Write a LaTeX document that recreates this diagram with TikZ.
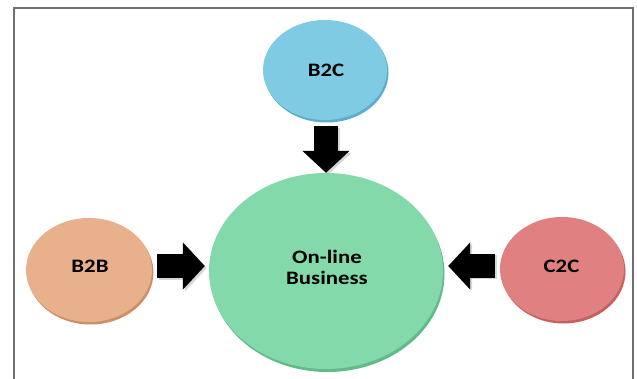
\documentclass[tikz,border=0pt]{standalone}
\usepackage{fontspec}
\setmainfont{Carlito}
\usepackage{graphicx}
\usetikzlibrary{shapes.geometric,arrows.meta,calc}
\definecolor{bluefill}{RGB}{127,203,227}
\definecolor{bluerim}{RGB}{92,172,204}
\definecolor{greenfill}{RGB}{131,217,170}
\definecolor{greenrim}{RGB}{96,186,138}
\definecolor{orangefill}{RGB}{232,176,139}
\definecolor{orangerim}{RGB}{206,142,102}
\definecolor{redfill}{RGB}{224,128,128}
\definecolor{redrim}{RGB}{196,96,96}
\definecolor{framegray}{RGB}{112,112,112}
\begin{document}
\begin{tikzpicture}[x=1pt,y=-1pt,
  disc/.style={ellipse, inner sep=0pt, draw=none},
  txt/.style={inner sep=0pt, align=center, text=black,
    font=\fontsize{19}{21}\selectfont\bfseries},
  blockarrow/.style={line width=24pt, line cap=butt, draw=black,
    -{Triangle[length=22pt,width=46pt]}},
  arrowshadow/.style={line width=24pt, line cap=butt, draw=black!35, opacity=0.45,
    -{Triangle[length=22pt,width=46pt]}}
]
\useasboundingbox (0,0) rectangle (637,379);
\fill[white] (0,0) rectangle (637,379);
% frame
\draw[framegray, line width=1.3pt] (14,382) -- (14,8) -- (633,8) -- (633,382);

% centres
\coordinate (pb2c) at (325,70);
\coordinate (pmain) at (326,271);
\coordinate (pb2b) at (89,270);
\coordinate (pc2c) at (562,269);

% rims (3-D edge)
\fill[bluerim]   ($(pb2c)+(1.5,2.5)$)  ellipse [x radius=62, y radius=50];
\fill[greenrim]  ($(pmain)+(1.5,3)$)   ellipse [x radius=117, y radius=98];
\fill[orangerim] ($(pb2b)+(1.5,2.5)$)  ellipse [x radius=63, y radius=52];
\fill[redrim]    ($(pc2c)+(1.5,2.5)$)  ellipse [x radius=62, y radius=52];

% discs
\node[disc, fill=bluefill,   minimum width=124pt, minimum height=100pt] (b2c)  at (pb2c)  {};
\node[disc, fill=greenfill,  minimum width=234pt, minimum height=196pt] (main) at (pmain) {};
\node[disc, fill=orangefill, minimum width=126pt, minimum height=104pt] (b2b)  at (pb2b)  {};
\node[disc, fill=redfill,    minimum width=124pt, minimum height=104pt] (c2c)  at (pc2c)  {};

% labels
\node[txt] (tb2c)  at ($(b2c.center)+(1,0.5)$)  {\scalebox{1.2}[1]{B2C}};
\node[txt] (tmain) at ($(main.center)+(1,-4)$)  {\scalebox{1.2}[1]{On-line}\\\scalebox{1.2}[1]{Business}};
\node[txt] (tb2b)  at ($(b2b.center)+(1,-3.5)$) {\scalebox{1.2}[1]{B2B}};
\node[txt] (tc2c)  at ($(c2c.center)+(-0.5,-3)$){\scalebox{1.2}[1]{C2C}};

% arrow shadows
\draw[arrowshadow] ($(b2c.south)+(3,8)$) -- ($(main.north)+(2,2)$);
\draw[arrowshadow] ($(b2b.east)+(7,-2)$) coordinate (s1) -- ($(s1 -| main.west)+(-2,0)$);
\draw[arrowshadow] ($(c2c.west)+(-3,-2)$) coordinate (s3) -- ($(s3 -| main.east)+(7,0)$);

% block arrows
\draw[blockarrow] ($(b2c.south)+(1,6)$) -- ($(main.north)+(0,0)$);
\draw[blockarrow] ($(b2b.east)+(5,-4)$) coordinate (t1) -- ($(t1 -| main.west)+(-4,0)$);
\draw[blockarrow] ($(c2c.west)+(-5,-3)$) coordinate (t3) -- ($(t3 -| main.east)+(5,0)$);
\end{tikzpicture}
\end{document}
